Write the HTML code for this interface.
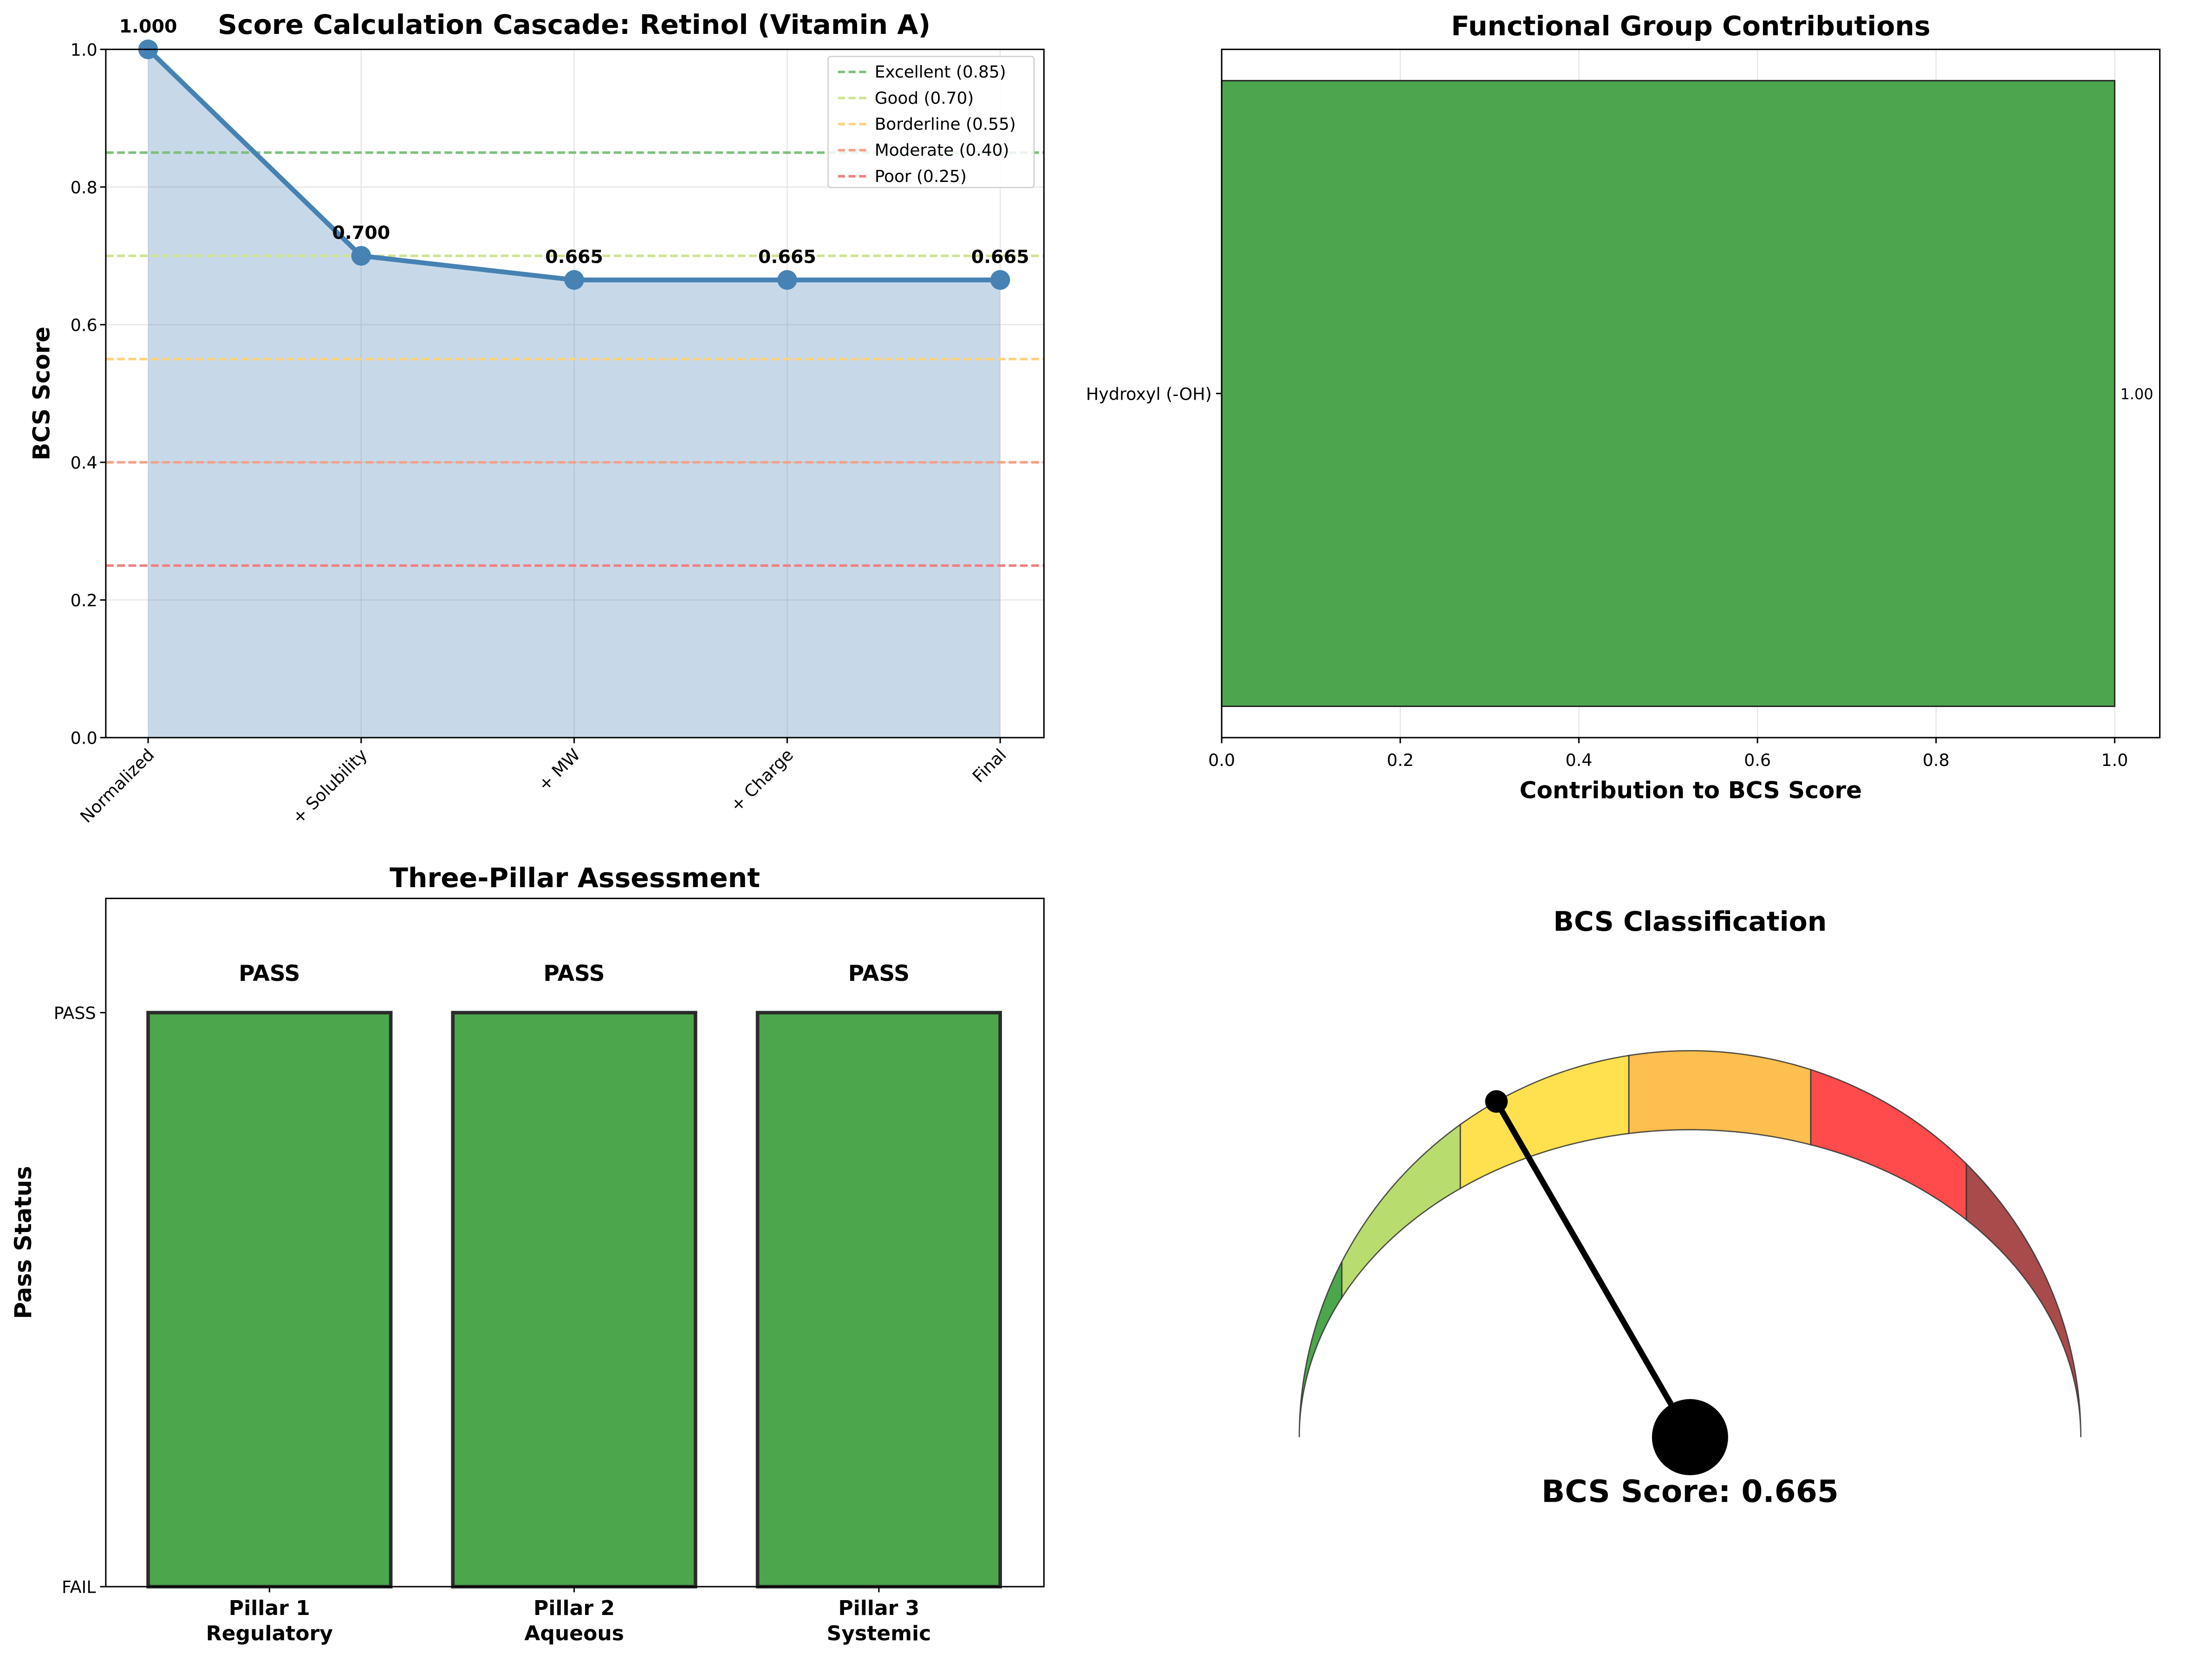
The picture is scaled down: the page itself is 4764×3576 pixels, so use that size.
<!DOCTYPE html>
<html><head><meta charset="utf-8"><style>
html,body{margin:0;padding:0;background:#fff}
svg{display:block;font-family:"DejaVu Sans","Liberation Sans",sans-serif}
</style></head><body>
<svg id="fig" width="4764" height="3576" viewBox="0 0 1568 1177" preserveAspectRatio="none" xmlns="http://www.w3.org/2000/svg">
<rect width="1568" height="1177" fill="#fff"/>
<g id="p1"></g>
<g id="p2"></g>
<g id="p3"></g>
<g id="p4"></g>
</svg>
<script>
const cascadeSteps=["Normalized","+ Solubility","+ MW","+ Charge","Final"];
const cascadeValues=[1.0,0.700,0.665,0.665,0.665];
const cascadeTicks=[0,0.2,0.4,0.6,0.8,1.0];
const thresholdNames=["Excellent (0.85)","Good (0.70)","Borderline (0.55)","Moderate (0.40)","Poor (0.25)"];
const thresholdValues=[0.85,0.70,0.55,0.40,0.25];
const thresholdColors=["#7fbf7f","#cfe494","#ffd27f","#f5a088","#f08080"];
const groupNames=["Hydroxyl (-OH)"];
const groupValues=[1.0];
const groupTicks=[0,0.2,0.4,0.6,0.8,1.0];
const pillarNames=[["Pillar 1","Regulatory"],["Pillar 2","Aqueous"],["Pillar 3","Systemic"]];
const pillarValues=[1,1,1];
const gaugeBounds=[1.0,0.85,0.70,0.55,0.40,0.25,0.0];
const gaugeColors=["#4ca64c","#b9dc6e","#ffe14f","#fdbf4f","#ff4b4b","#a94b4b"];
const gaugeScore=0.665;

const NS="http://www.w3.org/2000/svg";
function mk(parent,tag,attrs,text){const e=document.createElementNS(NS,tag);for(const k in attrs)e.setAttribute(k,attrs[k]);if(text!==undefined)e.textContent=text;parent.appendChild(e);return e;}
const fmt=(v,d)=>v.toFixed(d);
const TICK=12, TITLE=19.2, AXL=16.5;

// Panel 1
(function(){
const g=document.getElementById('p1');
const L=75,R=740,T=35,B=523;
const x=i=>105+151*i, y=v=>B-488*v;
let t=mk(g,'text',{x:407,y:24,'text-anchor':'middle','font-size':TITLE,'font-weight':'bold'},'Score Calculation Cascade: Retinol (Vitamin A)');

cascadeTicks.forEach(v=>{let l=mk(g,'line',{x1:L,x2:R,y1:y(v),y2:y(v),stroke:'#e6e6e6','stroke-width':0.8});});
cascadeSteps.forEach((s,i)=>{let l=mk(g,'line',{x1:x(i),x2:x(i),y1:T,y2:B,stroke:'#e6e6e6','stroke-width':0.8});});
let pts=cascadeValues.map((v,i)=>x(i)+','+y(v)).join(' ');
let a=mk(g,'polygon',{points:x(0)+','+y(0)+' '+pts+' '+x(cascadeValues.length-1)+','+y(0),fill:'#4682b4','fill-opacity':0.3});

thresholdValues.forEach((v,i)=>{let l=mk(g,'line',{x1:L,x2:R,y1:y(v),y2:y(v),stroke:thresholdColors[i],'stroke-width':1.8,'stroke-dasharray':'5.5,2.5'});});
let pl=mk(g,'polyline',{points:pts,fill:'none',stroke:'#4682b4','stroke-width':3.4,'stroke-linejoin':'round'});

cascadeValues.forEach((v,i)=>{
 let c=mk(g,'circle',{cx:x(i),cy:y(v),r:7,fill:'#4682b4'});
 let tl=mk(g,'text',{x:x(i),y:y(v)-12,'text-anchor':'middle','font-size':13,'font-weight':'bold'},fmt(v,3));
});
let fr=mk(g,'rect',{x:L,y:T,width:R-L,height:B-T,fill:'none',stroke:'#000','stroke-width':1});
cascadeTicks.forEach(v=>{mk(g,'line',{x1:L-4,x2:L,y1:y(v),y2:y(v),stroke:'#000'});let tl=mk(g,'text',{x:L-6,y:y(v)+4.5,'text-anchor':'end','font-size':TICK},fmt(v,1));});
cascadeSteps.forEach((s,i)=>{mk(g,'line',{x1:x(i),x2:x(i),y1:B,y2:B+4,stroke:'#000'});let tl=mk(g,'text',{x:0,y:0,'text-anchor':'end','font-size':TICK,transform:`translate(${x(i)+5},${B+13}) rotate(-45)`},s);});
let yl=mk(g,'text',{x:0,y:0,'text-anchor':'middle','font-size':AXL,'font-weight':'bold',transform:`translate(35,${(T+B)/2}) rotate(-90)`},'BCS Score');
let lg=mk(g,'g',{});
mk(lg,'rect',{x:587,y:40,width:146,height:93,rx:2,fill:'#fff','fill-opacity':0.85,stroke:'#ccc','stroke-width':0.8});
thresholdNames.forEach((n,i)=>{const yy=51+18.5*i;let e=mk(lg,'g',{});
 mk(e,'line',{x1:594,x2:615,y1:yy,y2:yy,stroke:thresholdColors[i],'stroke-width':1.8,'stroke-dasharray':'5,2.5'});
 mk(e,'text',{x:620,y:yy+4,'font-size':11.8},n);});
})();

// Panel 2
(function(){
const g=document.getElementById('p2');
const L=866,R=1531,T=35,B=523;
const x=v=>L+633*v;
let t=mk(g,'text',{x:(L+R)/2,y:25,'text-anchor':'middle','font-size':TITLE,'font-weight':'bold'},'Functional Group Contributions');
groupTicks.forEach(v=>{let l=mk(g,'line',{x1:x(v),x2:x(v),y1:T,y2:B,stroke:'#e6e6e6','stroke-width':0.8});});
const n=groupNames.length;
groupNames.forEach((name,i)=>{
 const cy=T+(B-T)*(i+0.5)/n, h=(B-T)/n*0.909;
 let b=mk(g,'rect',{x:x(0),y:cy-h/2,width:x(groupValues[i])-x(0),height:h,fill:'#4da64d',stroke:'#222','stroke-width':1});
 let vl=mk(g,'text',{x:x(groupValues[i])+4,y:cy+4,'font-size':10.5},fmt(groupValues[i],2));
 mk(g,'line',{x1:L-4,x2:L,y1:cy,y2:cy,stroke:'#000'});
 let tl=mk(g,'text',{x:L-7,y:cy+4.5,'text-anchor':'end','font-size':TICK},name);
});
let fr=mk(g,'rect',{x:L,y:T,width:R-L,height:B-T,fill:'none',stroke:'#000','stroke-width':1});
groupTicks.forEach(v=>{mk(g,'line',{x1:x(v),x2:x(v),y1:B,y2:B+4,stroke:'#000'});let tl=mk(g,'text',{x:x(v),y:B+20,'text-anchor':'middle','font-size':TICK},fmt(v,1));});
let xl=mk(g,'text',{x:(L+R)/2,y:566,'text-anchor':'middle','font-size':AXL,'font-weight':'bold'},'Contribution to BCS Score');
})();

// Panel 3
(function(){
const g=document.getElementById('p3');
const L=75,R=740,T=637,B=1125;
const y=v=>B-407*v; const cx=i=>191+216*i; const w=172;
let t=mk(g,'text',{x:(L+R)/2,y:629,'text-anchor':'middle','font-size':TITLE,'font-weight':'bold'},'Three-Pillar Assessment');
pillarValues.forEach((v,i)=>{
 let b=mk(g,'rect',{x:cx(i)-w/2,y:y(v),width:w,height:y(0)-y(v),fill:'#4ca64c',stroke:'#2b2b2b','stroke-width':2.5});
 let pl=mk(g,'text',{x:cx(i),y:y(v+0.07)+6,'text-anchor':'middle','font-size':15.5,'font-weight':'bold'},v?'PASS':'FAIL');
 mk(g,'line',{x1:cx(i),x2:cx(i),y1:B,y2:B+4,stroke:'#000'});
 let tl=mk(g,'text',{x:cx(i),y:B+20,'text-anchor':'middle','font-size':14.5,'font-weight':'bold'},pillarNames[i][0]);
 let tl2=mk(g,'text',{x:cx(i),y:B+38,'text-anchor':'middle','font-size':14.5,'font-weight':'bold'},pillarNames[i][1]);
});
let fr=mk(g,'rect',{x:L,y:T,width:R-L,height:B-T,fill:'none',stroke:'#000','stroke-width':1});
[[0,'FAIL'],[1,'PASS']].forEach(([v,s])=>{mk(g,'line',{x1:L-4,x2:L,y1:y(v),y2:y(v),stroke:'#000'});let tl=mk(g,'text',{x:L-7,y:y(v)+4.5,'text-anchor':'end','font-size':TICK},s);});
let yl=mk(g,'text',{x:0,y:0,'text-anchor':'middle','font-size':AXL,'font-weight':'bold',transform:`translate(22,${(T+B)/2}) rotate(-90)`},'Pass Status');
})();

// Panel 4 gauge
(function(){
const g=document.getElementById('p4');
const CX=1198,CY=1019,RX=277,ROY=274,RIY=218;
const ang=s=>Math.PI*s;
const P=(s,ry)=>[CX+RX*Math.cos(ang(s)),CY-ry*Math.sin(ang(s))];
let t=mk(g,'text',{x:CX,y:660,'text-anchor':'middle','font-size':TITLE,'font-weight':'bold'},'BCS Classification');
for(let k=0;k<gaugeColors.length;k++){
 const s0=gaugeBounds[k],s1=gaugeBounds[k+1];let d='';const N=40;
 for(let j=0;j<=N;j++){const s=s0+(s1-s0)*j/N;const p=P(s,ROY);d+=(j?'L':'M')+p[0].toFixed(2)+','+p[1].toFixed(2);}
 for(let j=N;j>=0;j--){const s=s0+(s1-s0)*j/N;const p=P(s,RIY);d+='L'+p[0].toFixed(2)+','+p[1].toFixed(2);}
 d+='Z';
 let seg=mk(g,'path',{d:d,fill:gaugeColors[k],stroke:'#333','stroke-width':0.9,'stroke-opacity':0.85});
}
const tip=P(gaugeScore,ROY);
let nd=mk(g,'line',{x1:CX,y1:CY,x2:tip[0],y2:tip[1],stroke:'#000','stroke-width':4.2});
let td=mk(g,'circle',{cx:tip[0],cy:tip[1],r:8,fill:'#000'});
let hub=mk(g,'circle',{cx:CX,cy:CY,r:27,fill:'#000'});
let sc=mk(g,'text',{x:CX,y:1065,'text-anchor':'middle','font-size':21.8,'font-weight':'bold'},'BCS Score: '+fmt(gaugeScore,3));
})();
</script>
</body></html>
